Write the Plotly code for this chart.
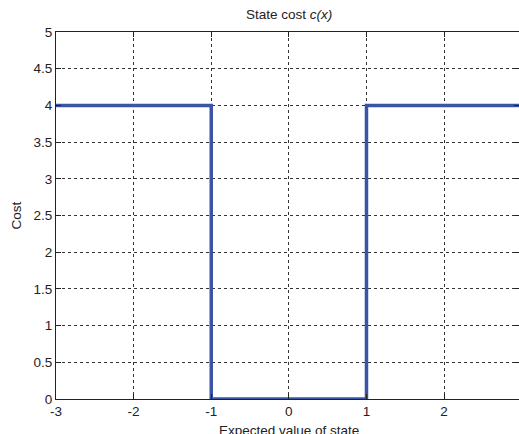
import plotly.graph_objects as go

x_vals = [-3, -1, -1, 1, 1, 3]
y_vals = [4, 4, 0, 0, 4, 4]
x_ticks = [-3, -2, -1, 0, 1, 2]
x_ticklabels = ["-3", "-2", "-1", "0", "1", "2"]
y_ticks = [0, 0.5, 1, 1.5, 2, 2.5, 3, 3.5, 4, 4.5, 5]
y_ticklabels = ["0", "0.5", "1", "1.5", "2", "2.5", "3", "3.5", "4", "4.5", "5"]

font = "Liberation Sans, Arial, sans-serif"
fs = 13.5

fig = go.Figure()
fig.add_trace(go.Scatter(x=x_vals, y=y_vals, mode="lines",
                         line=dict(color="#3a55a6", width=3.5),
                         showlegend=False, cliponaxis=True))

fig.update_layout(
    width=519, height=434,
    margin=dict(l=56, r=0, t=32, b=35),
    plot_bgcolor="white", paper_bgcolor="white",
    font=dict(family=font, size=fs, color="#222"),
    xaxis=dict(range=[-3, 2.965], tickvals=x_ticks, ticktext=x_ticklabels,
               showgrid=True, gridcolor="#333", griddash="dot", gridwidth=1,
               showline=True, linecolor="#222", linewidth=1, mirror="ticks",
               ticks="inside", ticklen=5, tickcolor="#222", zeroline=False,
               tickfont=dict(size=fs, color="#222")),
    yaxis=dict(range=[0, 5], tickvals=y_ticks, ticktext=y_ticklabels,
               showgrid=True, gridcolor="#333", griddash="dot", gridwidth=1,
               showline=True, linecolor="#222", linewidth=1, mirror="ticks",
               ticks="inside", ticklen=5, tickcolor="#222", zeroline=False,
               tickfont=dict(size=fs, color="#222")),
)

fig.add_annotation(text="State cost <i>c(x)</i>", x=0, xref="x", y=1, yref="paper",
                   yshift=18, showarrow=False, font=dict(size=fs, color="#222"),
                   yanchor="middle")
fig.add_annotation(text="Expected value of state", x=0, xref="x", y=0, yref="paper",
                   yshift=-31, showarrow=False, font=dict(size=fs, color="#222"),
                   yanchor="middle")
fig.add_annotation(text="Cost", x=0, xref="paper", xshift=-40, y=0.5, yref="paper",
                   showarrow=False, textangle=-90, font=dict(size=fs, color="#222"),
                   xanchor="center")

fig.write_html("out.html")
